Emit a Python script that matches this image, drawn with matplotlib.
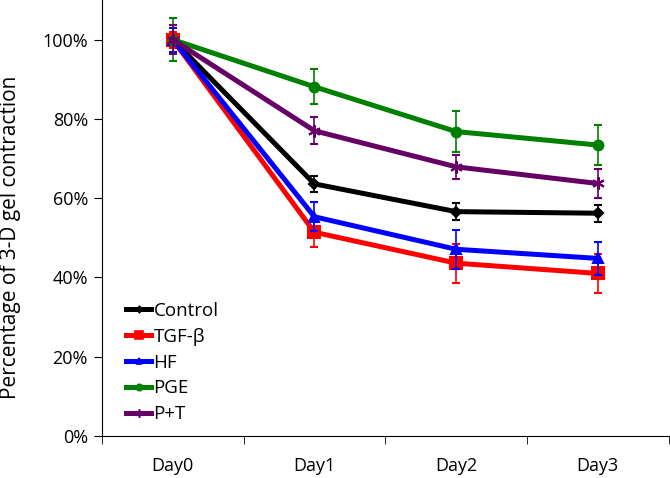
import matplotlib
matplotlib.use("Agg")
import matplotlib.pyplot as plt
from matplotlib.lines import Line2D
from matplotlib.ticker import PercentFormatter

plt.rcParams['font.family'] = ['Open Sans', 'DejaVu Sans']

days = ["Day0", "Day1", "Day2", "Day3"]
labels = ["Control", "TGF-\u03b2", "HF", "PGE", "P+T"]

control = [100, 63.6, 56.6, 56.2]
control_err = [1.5, 2.0, 2.1, 2.1]
tgf = [100, 51.4, 43.6, 41.0]
tgf_err = [2.0, 3.7, 4.9, 4.9]
hf = [100, 55.3, 47.1, 44.8]
hf_err = [3.0, 3.7, 4.9, 4.2]
pge = [100, 88.1, 76.8, 73.4]
pge_err = [5.5, 4.4, 5.2, 5.0]
pt = [100, 77.0, 67.9, 63.7]
pt_err = [3.7, 3.4, 3.0, 3.6]

series = [control, tgf, hf, pge, pt]
errors = [control_err, tgf_err, hf_err, pge_err, pt_err]
colors = ["black", "#ff0000", "#0000ff", "#008000", "#660066"]
markers = ["D", "s", "^", "o", (6, 2, 0)]
msizes = [5, 9, 7, 7, 9]

fig = plt.figure(figsize=(6.7, 4.78), dpi=100)
ax = fig.add_axes([0.152, 0.088, 0.846, 0.912])

x = list(range(len(days)))
order = [3, 4, 0, 2, 1]
for i in order:
    ax.errorbar(x, series[i], yerr=errors[i], color=colors[i], lw=3.6,
                marker=markers[i], ms=msizes[i], mew=1.5,
                ecolor=colors[i], elinewidth=1.2, capsize=2.8, capthick=1.2,
                zorder=3 + i)

# legend: line with small marker, no error bars (like the Excel original)
handles = [Line2D([], [], color=colors[i], lw=3.6, marker=markers[i],
                  ms=msizes[i] * 0.65, mew=1.2) for i in range(len(labels))]
ax.legend(handles, labels, loc="upper left", bbox_to_anchor=(0.03, 0.325),
          frameon=False, fontsize=13.5, handlelength=1.3, handletextpad=0.15,
          labelspacing=0.42, borderaxespad=0)

ax.set_xlim(-0.5, 3.5)
ax.set_ylim(0, 110)
ax.set_yticks([0, 20, 40, 60, 80, 100])
ax.yaxis.set_major_formatter(PercentFormatter(decimals=0))
ax.set_xticks(x)
ax.set_xticklabels(days)
ax.set_xticks([-0.5, 0.5, 1.5, 2.5, 3.5], minor=True)
ax.tick_params(axis="x", which="major", length=0, pad=15, labelsize=13)
ax.tick_params(axis="x", which="minor", length=6, direction="out")
ax.tick_params(axis="y", length=6, direction="out", labelsize=13, pad=4)
ax.spines["top"].set_visible(False)
ax.spines["right"].set_visible(False)
ax.set_ylabel("Percentage of 3-D gel contraction", fontsize=15)
ax.yaxis.set_label_coords(-0.142, 0.455)

fig.savefig("out.png", dpi=100)
